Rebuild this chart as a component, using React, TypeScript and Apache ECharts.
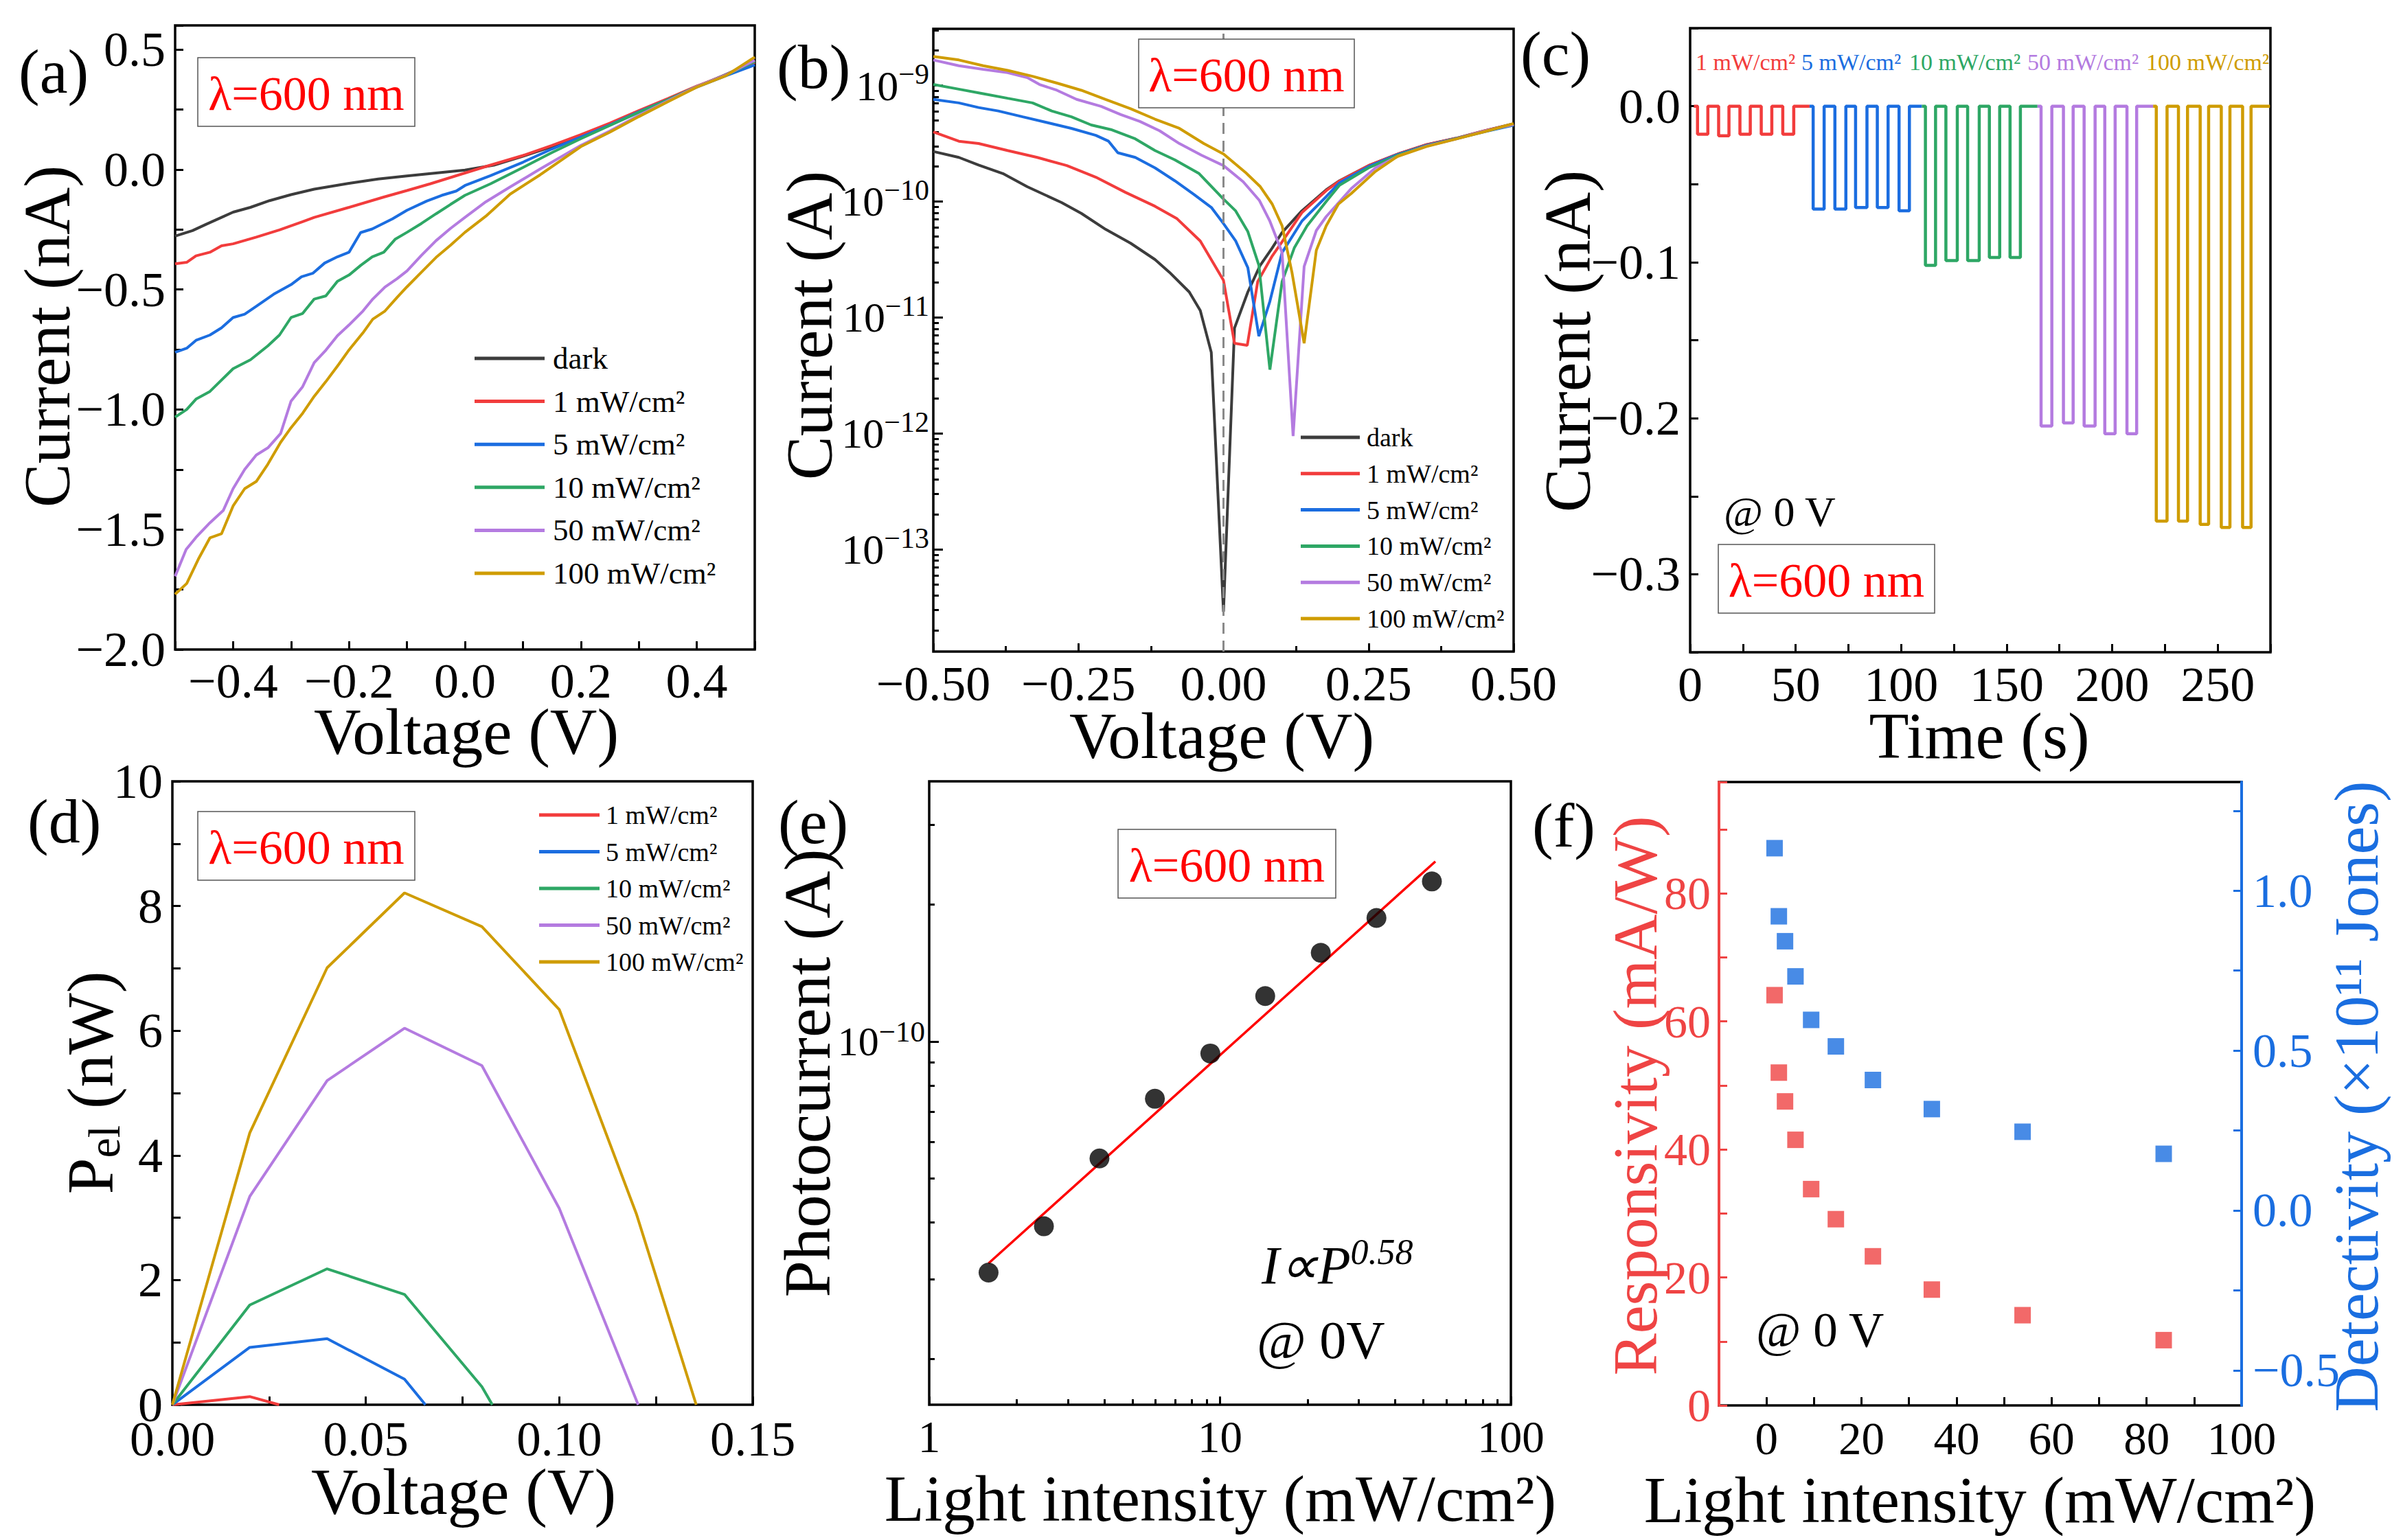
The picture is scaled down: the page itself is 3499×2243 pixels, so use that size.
import React, { useEffect, useRef } from 'react';
import * as echarts from 'echarts';

const FONT = "'Liberation Serif', 'Times New Roman', Times, serif";
const W = 3499;
const H = 2243;

const C_DARK = '#3c3c3c';
const C_RED = '#f23c3c';
const C_BLUE = '#1b6de0';
const C_GREEN = '#2ea765';
const C_PURPLE = '#b47be0';
const C_GOLD = '#cf9c00';
const F_RED = '#ef4444';
const F_BLUE = '#1a6ee0';

const NAMES_ALL = ['dark', '1 mW/cm²', '5 mW/cm²', '10 mW/cm²', '50 mW/cm²', '100 mW/cm²'];
const NAMES_LIGHT = ['1 mW/cm²', '5 mW/cm²', '10 mW/cm²', '50 mW/cm²', '100 mW/cm²'];
const COLORS_ALL = [C_DARK, C_RED, C_BLUE, C_GREEN, C_PURPLE, C_GOLD];
const COLORS_LIGHT = [C_RED, C_BLUE, C_GREEN, C_PURPLE, C_GOLD];

// ---------- (a) I-V linear, [V, nA] ----------
const darkA = [[-0.5,-0.278],[-0.47,-0.255],[-0.447,-0.229],[-0.42,-0.2],[-0.4,-0.178],[-0.37,-0.158],[-0.337,-0.13],[-0.3,-0.105],[-0.26,-0.082],[-0.2,-0.058],[-0.15,-0.04],[-0.1,-0.027],[-0.05,-0.015],[0,-0.003],[0.05,0.018],[0.1,0.055],[0.15,0.095],[0.2,0.14],[0.25,0.19],[0.3,0.243],[0.35,0.293],[0.4,0.345],[0.45,0.395],[0.5,0.45]];
const redA = [[-0.5,-0.393],[-0.48,-0.387],[-0.464,-0.36],[-0.44,-0.345],[-0.42,-0.318],[-0.4,-0.31],[-0.36,-0.282],[-0.32,-0.252],[-0.28,-0.218],[-0.26,-0.2],[-0.2,-0.158],[-0.14,-0.115],[-0.1,-0.088],[-0.06,-0.06],[-0.02,-0.03],[0,-0.015],[0.04,0.015],[0.1,0.058],[0.15,0.1],[0.2,0.145],[0.25,0.193],[0.3,0.245],[0.35,0.295],[0.4,0.347],[0.45,0.393],[0.5,0.445]];
const blueA = [[-0.5,-0.762],[-0.48,-0.745],[-0.464,-0.712],[-0.44,-0.69],[-0.42,-0.66],[-0.4,-0.617],[-0.38,-0.603],[-0.36,-0.57],[-0.33,-0.52],[-0.3,-0.48],[-0.282,-0.447],[-0.262,-0.432],[-0.242,-0.39],[-0.22,-0.364],[-0.2,-0.345],[-0.18,-0.263],[-0.16,-0.248],[-0.125,-0.206],[-0.1,-0.17],[-0.066,-0.132],[-0.04,-0.108],[-0.015,-0.09],[0,-0.067],[0.044,-0.026],[0.1,0.03],[0.15,0.085],[0.2,0.135],[0.25,0.185],[0.3,0.24],[0.35,0.29],[0.4,0.343],[0.45,0.39],[0.5,0.435]];
const greenA = [[-0.5,-1.032],[-0.48,-1.0],[-0.464,-0.957],[-0.44,-0.925],[-0.4,-0.83],[-0.37,-0.793],[-0.34,-0.735],[-0.32,-0.69],[-0.3,-0.617],[-0.28,-0.6],[-0.26,-0.54],[-0.24,-0.527],[-0.22,-0.466],[-0.2,-0.44],[-0.18,-0.4],[-0.16,-0.364],[-0.14,-0.345],[-0.12,-0.29],[-0.1,-0.262],[-0.075,-0.225],[-0.05,-0.185],[-0.025,-0.146],[0,-0.108],[0.044,-0.06],[0.1,0.008],[0.15,0.07],[0.2,0.128],[0.25,0.183],[0.3,0.238],[0.35,0.29],[0.4,0.345],[0.45,0.392],[0.5,0.45]];
const purpleA = [[-0.5,-1.695],[-0.481,-1.583],[-0.464,-1.533],[-0.44,-1.472],[-0.417,-1.421],[-0.4,-1.33],[-0.38,-1.25],[-0.36,-1.19],[-0.34,-1.16],[-0.318,-1.1],[-0.3,-0.965],[-0.28,-0.905],[-0.26,-0.805],[-0.24,-0.753],[-0.22,-0.693],[-0.2,-0.648],[-0.176,-0.59],[-0.159,-0.54],[-0.138,-0.49],[-0.117,-0.455],[-0.1,-0.423],[-0.075,-0.358],[-0.05,-0.297],[-0.025,-0.246],[0,-0.2],[0.036,-0.135],[0.078,-0.073],[0.13,0.002],[0.2,0.1],[0.25,0.16],[0.3,0.225],[0.35,0.285],[0.4,0.345],[0.45,0.393],[0.5,0.455]];
const goldA = [[-0.5,-1.77],[-0.48,-1.725],[-0.46,-1.624],[-0.44,-1.535],[-0.42,-1.518],[-0.4,-1.402],[-0.38,-1.33],[-0.36,-1.3],[-0.34,-1.228],[-0.318,-1.137],[-0.3,-1.076],[-0.28,-1.016],[-0.26,-0.945],[-0.24,-0.884],[-0.218,-0.813],[-0.2,-0.752],[-0.176,-0.681],[-0.159,-0.624],[-0.138,-0.59],[-0.117,-0.533],[-0.1,-0.489],[-0.075,-0.428],[-0.05,-0.367],[-0.025,-0.316],[0,-0.262],[0.036,-0.195],[0.078,-0.103],[0.13,-0.022],[0.2,0.095],[0.25,0.155],[0.3,0.22],[0.35,0.282],[0.4,0.343],[0.45,0.39],[0.5,0.468]];

// ---------- (b) |I|-V semilog, [V, A] ----------
const darkB = [[-0.5,2.70e-10],[-0.456,2.40e-10],[-0.422,2.06e-10],[-0.38,1.74e-10],[-0.338,1.34e-10],[-0.279,9.8e-11],[-0.245,7.9e-11],[-0.203,5.75e-11],[-0.16,4.37e-11],[-0.118,3.16e-11],[-0.093,2.45e-11],[-0.059,1.66e-11],[-0.04,1.15e-11],[-0.021,5.0e-12],[0,2.9e-14],[0.019,8.1e-12],[0.042,1.66e-11],[0.063,2.8e-11],[0.084,3.98e-11],[0.101,5.4e-11],[0.135,8.3e-11],[0.177,1.26e-10],[0.2,1.51e-10],[0.25,2.04e-10],[0.3,2.56e-10],[0.35,3.09e-10],[0.4,3.5e-10],[0.45,4.07e-10],[0.5,4.68e-10]];
const redB = [[-0.5,3.98e-10],[-0.456,3.31e-10],[-0.422,3.16e-10],[-0.372,2.75e-10],[-0.321,2.40e-10],[-0.27,2.04e-10],[-0.22,1.62e-10],[-0.169,1.20e-10],[-0.118,9.1e-11],[-0.08,7.1e-11],[-0.04,4.57e-11],[0,2.09e-11],[0.019,6.0e-12],[0.041,5.75e-12],[0.059,2.04e-11],[0.084,3.39e-11],[0.101,4.5e-11],[0.135,8.0e-11],[0.177,1.24e-10],[0.2,1.5e-10],[0.25,2.04e-10],[0.3,2.56e-10],[0.35,3.09e-10],[0.4,3.5e-10],[0.45,4.07e-10],[0.5,4.65e-10]];
const blueB = [[-0.5,7.59e-10],[-0.456,7.08e-10],[-0.422,6.46e-10],[-0.388,6.03e-10],[-0.346,5.37e-10],[-0.304,4.79e-10],[-0.262,4.27e-10],[-0.22,3.72e-10],[-0.198,3.31e-10],[-0.182,2.63e-10],[-0.152,2.40e-10],[-0.118,1.95e-10],[-0.084,1.51e-10],[-0.051,1.15e-10],[-0.021,8.9e-11],[0,6.46e-11],[0.021,4.57e-11],[0.042,2.69e-11],[0.061,6.9e-12],[0.08,1.38e-11],[0.101,3.63e-11],[0.135,6.76e-11],[0.177,1.10e-10],[0.2,1.45e-10],[0.25,2.0e-10],[0.3,2.54e-10],[0.35,3.05e-10],[0.4,3.48e-10],[0.45,4.0e-10],[0.5,4.55e-10]];
const greenB = [[-0.5,1.02e-9],[-0.456,9.3e-10],[-0.414,8.5e-10],[-0.372,7.76e-10],[-0.329,7.08e-10],[-0.296,6.03e-10],[-0.262,5.37e-10],[-0.228,4.57e-10],[-0.194,4.17e-10],[-0.152,3.47e-10],[-0.118,2.75e-10],[-0.084,2.29e-10],[-0.042,1.74e-10],[0,1.05e-10],[0.021,8.3e-11],[0.042,5.5e-11],[0.061,2.82e-11],[0.08,3.55e-12],[0.101,2.04e-11],[0.122,3.98e-11],[0.144,6.17e-11],[0.177,1.0e-10],[0.2,1.38e-10],[0.25,1.95e-10],[0.3,2.5e-10],[0.35,3.02e-10],[0.4,3.47e-10],[0.45,4.03e-10],[0.5,4.6e-10]];
const purpleB = [[-0.5,1.66e-9],[-0.456,1.48e-9],[-0.414,1.38e-9],[-0.372,1.29e-9],[-0.338,1.17e-9],[-0.317,1.02e-9],[-0.287,9.1e-10],[-0.253,7.59e-10],[-0.211,6.61e-10],[-0.177,5.62e-10],[-0.144,4.9e-10],[-0.11,4.07e-10],[-0.076,3.16e-10],[-0.038,2.51e-10],[0,2.04e-10],[0.034,1.48e-10],[0.062,1.02e-10],[0.08,6.76e-11],[0.101,3.63e-11],[0.12,9.5e-13],[0.139,2.75e-11],[0.16,5.62e-11],[0.177,7.41e-11],[0.22,1.29e-10],[0.262,1.95e-10],[0.3,2.45e-10],[0.35,3.0e-10],[0.4,3.45e-10],[0.45,4.05e-10],[0.5,4.62e-10]];
const goldB = [[-0.5,1.78e-9],[-0.456,1.66e-9],[-0.414,1.48e-9],[-0.372,1.35e-9],[-0.329,1.20e-9],[-0.287,1.05e-9],[-0.245,9.1e-10],[-0.203,7.59e-10],[-0.16,6.31e-10],[-0.118,5.13e-10],[-0.076,4.27e-10],[-0.034,3.16e-10],[0,2.57e-10],[0.038,1.78e-10],[0.063,1.35e-10],[0.084,9.5e-11],[0.101,6.17e-11],[0.118,2.45e-11],[0.139,6.0e-12],[0.16,3.8e-11],[0.177,6.17e-11],[0.198,9.5e-11],[0.22,1.17e-10],[0.262,1.82e-10],[0.3,2.45e-10],[0.35,2.98e-10],[0.4,3.45e-10],[0.45,4.0e-10],[0.5,4.7e-10]];

// ---------- (c) photo-response, time in s, current in nA ----------
const cSegStart = [1.8, 56.6, 109.8, 164.6, 219.4];
const cSegEnd = [56.6, 109.8, 164.6, 219.4, 274.8];
const cLightOn = [
  [3.5, 13.5, 23.6, 33.7, 43.9],
  [58.3, 68.6, 78.4, 88.7, 99.0],
  [111.5, 121.2, 131.5, 141.8, 151.6],
  [166.3, 176.9, 186.7, 196.5, 207.0],
  [220.9, 231.4, 241.7, 251.7, 261.8],
];
const cLightOff = [
  [8.4, 18.4, 28.5, 38.7, 49.1],
  [63.5, 73.8, 83.8, 93.8, 103.9],
  [116.3, 126.6, 137.0, 146.7, 156.5],
  [171.4, 181.5, 191.9, 201.4, 211.6],
  [226.0, 235.7, 245.7, 255.8, 265.8],
];
const cOnLevel = [
  [-0.018, -0.019, -0.018, -0.018, -0.018],
  [-0.066, -0.066, -0.065, -0.065, -0.067],
  [-0.102, -0.099, -0.099, -0.097, -0.097],
  [-0.205, -0.203, -0.205, -0.21, -0.21],
  [-0.266, -0.266, -0.268, -0.27, -0.27],
];
const cDarkLevel = 0;

// ---------- (d) electrical power, [V, nW] ----------
const redD = [[0,0],[0.02,0.13],[0.0276,0]];
const blueD = [[0,0],[0.02,0.92],[0.04,1.06],[0.06,0.41],[0.0654,0]];
const greenD = [[0,0],[0.02,1.6],[0.04,2.18],[0.06,1.77],[0.08,0.29],[0.0827,0]];
const purpleD = [[0,0],[0.02,3.34],[0.04,5.2],[0.06,6.04],[0.08,5.44],[0.1,3.15],[0.1204,0]];
const goldD = [[0,0],[0.02,4.36],[0.04,7.01],[0.06,8.21],[0.08,7.67],[0.1,6.34],[0.12,3.05],[0.1354,0]];

// ---------- (e) photocurrent vs intensity ----------
const eIntensity = [1.6, 2.48, 3.85, 5.97, 9.26, 14.3, 22.2, 34.5, 53.5];
const ePhotocurrent = [3.10e-11, 3.92e-11, 5.53e-11, 7.48e-11, 9.41e-11, 1.259e-10, 1.567e-10, 1.87e-10, 2.25e-10];
const eFitIntensity = [1.6, 55];
const eFitCurrent = [3.25e-11, 2.49e-10];

// ---------- (f) responsivity & detectivity ----------
const fIntensity = [1.7, 2.6, 3.9, 6.1, 9.4, 14.6, 22.4, 34.8, 53.9, 83.6];
const fResponsivity = [64.1, 52.0, 47.5, 41.5, 33.8, 29.1, 23.3, 18.1, 14.1, 10.2];
const fDetectivity = [1.133, 0.92, 0.842, 0.732, 0.596, 0.513, 0.408, 0.317, 0.246, 0.177];

// tick labels / positions
const LOG_MANTISSAS = [2, 3, 4, 5, 6, 7, 8, 9];
const bMajorTicks = [1e-13, 1e-12, 1e-11, 1e-10, 1e-9];
const bDecades = [-14, -13, -12, -11, -10, -9];
const eMajorY = [1e-10];
const eDecadesY = [-11, -10];
const eMajorX = [1, 10, 100];
const eDecadesX = [0, 1];
const fRightLabels = [-0.5, 0, 0.5, 1.0];
const fRightTicks = [-0.5, -0.25, 0, 0.25, 0.5, 0.75, 1.0, 1.25];

const B_MIN = 1.318e-14, B_MAX = 3.08e-9;
const E_MIN = 1.587e-11, E_MAX = 3.737e-10;

function minorLog(decades: number[], lo: number, hi: number) {
  const out: number[] = [];
  decades.forEach((d) => LOG_MANTISSAS.forEach((m) => {
    const v = m * Math.pow(10, d);
    if (v > lo && v < hi) out.push(v);
  }));
  return out;
}

function fmtNum(v: number, d: number) {
  const r = Number(v.toFixed(d));
  if (r === 0) return (0).toFixed(d);
  return (r < 0 ? '\u2212' : '') + Math.abs(r).toFixed(d);
}
function isMult(v: number, step: number) {
  const q = v / step;
  return Math.abs(q - Math.round(q)) < 1e-6;
}
function pulseTrace(i: number) {
  const pts: number[][] = [[cSegStart[i], cDarkLevel]];
  cLightOn[i].forEach((t, k) => {
    const lvl = cOnLevel[i][k];
    const off = cLightOff[i][k];
    pts.push([t, cDarkLevel], [t, lvl], [off, lvl], [off, cDarkLevel]);
  });
  pts.push([cSegEnd[i], cDarkLevel]);
  return pts;
}

const tick = (color = '#000', len = 12) => ({ show: true, inside: true, length: len, lineStyle: { color, width: 3 } });
const lbl = (size = 72, margin = 14, color = '#000') => ({
  fontFamily: FONT, fontSize: size, color, margin, showMinLabel: true, showMaxLabel: true,
});
const noLine = { show: false, onZero: false };
const noSplit = { show: false };

const powRich = (base: number, sup: number) => ({
  b: { fontFamily: FONT, fontSize: base, color: '#000', lineHeight: base * 1.2 },
  s: { fontFamily: FONT, fontSize: sup, color: '#000', lineHeight: sup, verticalAlign: 'top' },
});
const powFmt = (v: number) => {
  const e = Math.round(Math.log10(v));
  return `{b|10}{s|${e < 0 ? '\u2212' : ''}${Math.abs(e)}}`;
};

function txt(x: number, y: number, text: string, size: number, o: any = {}) {
  return {
    type: 'text', x, y, z: 100, rotation: o.rot || 0,
    style: {
      text, fontSize: size, fontFamily: FONT, fill: o.fill || '#000',
      align: o.align || 'left', verticalAlign: 'middle',
      fontStyle: o.italic ? 'italic' : 'normal', rich: o.rich,
    },
  };
}
function lambdaBox(x0: number, y0: number, x1: number, y1: number) {
  return [
    { type: 'rect', z: 99, shape: { x: x0, y: y0, width: x1 - x0, height: y1 - y0 }, style: { fill: '#fff', stroke: '#555', lineWidth: 1.5 } },
    txt((x0 + x1) / 2, (y0 + y1) / 2 + 2, 'λ=600 nm', 70, { fill: '#ff0000', align: 'center' }),
  ];
}

function buildOption() {
  const lineSeries = (name: string, data: any, color: string, xi: number, yi: number, width = 4) => ({
    type: 'line', name, data, xAxisIndex: xi, yAxisIndex: yi, showSymbol: false, symbol: 'none',
    lineStyle: { width, color }, itemStyle: { color }, emphasis: { disabled: true },
  });
  const dataA = [darkA, redA, blueA, greenA, purpleA, goldA];
  const dataB = [darkB, redB, blueB, greenB, purpleB, goldB];
  const dataD = [redD, blueD, greenD, purpleD, goldD];

  const series: any[] = [];
  dataA.forEach((d, i) => series.push(lineSeries(NAMES_ALL[i], d, COLORS_ALL[i], 0, 0)));
  dataB.forEach((d, i) => {
    const s: any = lineSeries(NAMES_ALL[i], d, COLORS_ALL[i], 1, 1);
    if (i === 0) {
      s.markLine = {
        silent: true, symbol: 'none', label: { show: false },
        lineStyle: { type: [16, 10], color: '#8a8a8a', width: 3 },
        data: [{ xAxis: 0 }],
      };
    }
    series.push(s);
  });
  COLORS_LIGHT.forEach((c, i) => series.push(lineSeries(NAMES_LIGHT[i], pulseTrace(i), c, 2, 3, 4.5)));
  dataD.forEach((d, i) => series.push(lineSeries(NAMES_LIGHT[i], d, COLORS_LIGHT[i], 3, 4)));
  series.push({
    ...lineSeries('fit', eFitIntensity.map((p, i) => [p, eFitCurrent[i]]), '#ff0000', 4, 5, 3.5),
  });
  series.push({
    type: 'scatter', name: 'Iph', xAxisIndex: 4, yAxisIndex: 5, symbol: 'circle', symbolSize: 29,
    itemStyle: { color: '#000' }, z: 5,
    data: eIntensity.map((p, i) => [p, ePhotocurrent[i]]),
  });
  series.push({
    type: 'scatter', name: 'R', xAxisIndex: 6, yAxisIndex: 7, symbol: 'rect', symbolSize: 24,
    itemStyle: { color: F_RED }, data: fIntensity.map((p, i) => [p, fResponsivity[i]]),
  });
  series.push({
    type: 'scatter', name: 'D', xAxisIndex: 6, yAxisIndex: 8, symbol: 'rect', symbolSize: 24,
    itemStyle: { color: F_BLUE }, data: fIntensity.map((p, i) => [p, fDetectivity[i]]),
  });

  const grid = [
    { left: 255, top: 37, width: 844, height: 909 },
    { left: 1359, top: 42, width: 845, height: 907 },
    { left: 2461, top: 41, width: 845, height: 909 },
    { left: 251, top: 1138, width: 845, height: 908 },
    { left: 1353, top: 1138, width: 847, height: 908 },
    { left: 2503, top: 1139, width: 761, height: 908 },
  ].map((g) => ({ ...g, show: true, borderColor: '#000', borderWidth: 3.5, backgroundColor: 'transparent', containLabel: false }));

  const xAxis = [
    { type: 'value', gridIndex: 0, min: -0.5, max: 0.5, interval: 0.1, axisLine: noLine, splitLine: noSplit, axisTick: tick(),
      axisLabel: { ...lbl(72, 10), formatter: (v: number) => (isMult(v, 0.2) ? fmtNum(v, 1) : '') } },
    { type: 'value', gridIndex: 1, min: -0.5, max: 0.5, interval: 0.25, axisLine: noLine, splitLine: noSplit, axisTick: tick(),
      minorTick: { show: true, splitNumber: 2, length: 8, lineStyle: { color: '#000', width: 3 } },
      axisLabel: { ...lbl(72, 11), formatter: (v: number) => fmtNum(v, 2) } },
    { type: 'value', gridIndex: 2, min: 0, max: 275, interval: 25, axisLine: noLine, splitLine: noSplit, axisTick: tick(),
      axisLabel: { ...lbl(72, 11), formatter: (v: number) => (isMult(v, 50) ? String(Math.round(v)) : '') } },
    { type: 'value', gridIndex: 3, min: 0, max: 0.15, interval: 0.025, axisLine: noLine, splitLine: noSplit, axisTick: tick(),
      axisLabel: { ...lbl(71, 14), formatter: (v: number) => (isMult(v, 0.05) ? fmtNum(v, 2) : '') } },
    { type: 'log', logBase: 10, gridIndex: 4, min: 1, max: 100, axisLine: noLine, splitLine: noSplit,
      axisTick: { ...tick(), customValues: eMajorX },
      axisLabel: { ...lbl(65, 14), customValues: eMajorX, formatter: (v: number) => String(Math.round(v)) } },
    { type: 'log', logBase: 10, gridIndex: 4, min: 1, max: 100, position: 'bottom', axisLine: noLine, splitLine: noSplit,
      axisLabel: { show: false }, axisTick: { ...tick('#000', 8), customValues: minorLog(eDecadesX, 1, 100) } },
    { type: 'value', gridIndex: 5, min: -10, max: 100, interval: 10, axisLine: noLine, splitLine: noSplit, axisTick: tick(),
      axisLabel: { ...lbl(67, 14), formatter: (v: number) => (isMult(v, 20) ? String(Math.round(v)) : '') } },
  ];

  const yAxis = [
    { type: 'value', gridIndex: 0, min: -2, max: 0.6, interval: 0.25, axisLine: noLine, splitLine: noSplit, axisTick: tick(),
      axisLabel: { ...lbl(72, 14), formatter: (v: number) => (isMult(v, 0.5) ? fmtNum(v, 1) : '') } },
    { type: 'log', logBase: 10, gridIndex: 1, min: B_MIN, max: B_MAX, axisLine: noLine, splitLine: noSplit,
      axisTick: { ...tick('#000', 14), customValues: bMajorTicks },
      axisLabel: { ...lbl(62, 6), customValues: bMajorTicks, formatter: powFmt, rich: powRich(62, 42) } },
    { type: 'log', logBase: 10, gridIndex: 1, position: 'left', min: B_MIN, max: B_MAX, axisLine: noLine, splitLine: noSplit,
      axisLabel: { show: false }, axisTick: { ...tick('#000', 8), customValues: minorLog(bDecades, B_MIN, B_MAX) } },
    { type: 'value', gridIndex: 2, min: -0.35, max: 0.05, interval: 0.05, axisLine: noLine, splitLine: noSplit, axisTick: tick(),
      axisLabel: { ...lbl(72, 14), formatter: (v: number) => (isMult(v, 0.1) ? fmtNum(v, 1) : '') } },
    { type: 'value', gridIndex: 3, min: 0, max: 10, interval: 1, axisLine: noLine, splitLine: noSplit, axisTick: tick(),
      axisLabel: { ...lbl(72, 14), formatter: (v: number) => (isMult(v, 2) ? String(Math.round(v)) : '') } },
    { type: 'log', logBase: 10, gridIndex: 4, min: E_MIN, max: E_MAX, axisLine: noLine, splitLine: noSplit,
      axisTick: { ...tick('#000', 14), customValues: eMajorY },
      axisLabel: { ...lbl(60, 6), customValues: eMajorY, formatter: powFmt, rich: powRich(60, 43) } },
    { type: 'log', logBase: 10, gridIndex: 4, position: 'left', min: E_MIN, max: E_MAX, axisLine: noLine, splitLine: noSplit,
      axisLabel: { show: false }, axisTick: { ...tick('#000', 8), customValues: minorLog(eDecadesY, E_MIN, E_MAX) } },
    { type: 'value', gridIndex: 5, position: 'left', min: 0, max: 97.4, interval: 10, z: 5,
      axisLine: { show: true, onZero: false, lineStyle: { color: F_RED, width: 4 } }, splitLine: noSplit, axisTick: tick(F_RED),
      axisLabel: { ...lbl(68, 12, F_RED), formatter: (v: number) => (isMult(v, 20) ? String(Math.round(v)) : '') } },
    { type: 'value', gridIndex: 5, position: 'right', min: -0.61, max: 1.34, z: 5,
      axisLine: { show: true, onZero: false, lineStyle: { color: F_BLUE, width: 4 } }, splitLine: noSplit,
      axisTick: { ...tick(F_BLUE), customValues: fRightTicks },
      axisLabel: { ...lbl(70, 16, F_BLUE), customValues: fRightLabels, formatter: (v: number) => fmtNum(v, 1) } },
  ];

  const legendBase = {
    orient: 'vertical', icon: 'rect', selectedMode: false, padding: 0,
    itemStyle: { borderWidth: 0 },
  };
  const legend = [
    { ...legendBase, data: NAMES_ALL, left: 691, top: 497, itemWidth: 102, itemHeight: 5, itemGap: 12.6,
      textStyle: { fontFamily: FONT, fontSize: 45, color: '#000', lineHeight: 50, padding: [0, 0, 0, 7] } },
    { ...legendBase, data: NAMES_ALL, left: 1894, top: 617, itemWidth: 86, itemHeight: 5, itemGap: 12.8,
      textStyle: { fontFamily: FONT, fontSize: 38, color: '#000', lineHeight: 40, padding: [0, 0, 0, 5] } },
    { ...legendBase, data: NAMES_LIGHT, left: 785, top: 1167, itemWidth: 88, itemHeight: 5, itemGap: 13.5,
      textStyle: { fontFamily: FONT, fontSize: 38, color: '#000', lineHeight: 40, padding: [0, 0, 0, 4] } },
  ];

  const R = Math.PI / 2;
  const elements: any[] = [
    // panel letters
    txt(27, 104, '(a)', 92), txt(1131, 97, '(b)', 92), txt(2214, 78, '(c)', 92),
    txt(40, 1196, '(d)', 92), txt(1133, 1197, '(e)', 92), txt(2231, 1202, '(f)', 92),
    // lambda boxes
    ...lambdaBox(288, 84, 604, 184), ...lambdaBox(1658, 57, 1972, 157), ...lambdaBox(2502, 793, 2817, 893),
    ...lambdaBox(288, 1182, 604, 1282), ...lambdaBox(1628, 1208, 1945, 1308),
    // axis titles
    txt(68, 490, 'Current (nA)', 96, { rot: R, align: 'center' }),
    txt(679, 1066, 'Voltage (V)', 95, { align: 'center' }),
    txt(1178, 474, 'Current (A)', 96, { rot: R, align: 'center' }),
    txt(1779, 1072, 'Voltage (V)', 95, { align: 'center' }),
    txt(2282, 497, 'Current (nA)', 96, { rot: R, align: 'center' }),
    txt(2882, 1072, 'Time (s)', 95, { align: 'center' }),
    txt(134, 1577, '{p|P}{e|el}{p| (nW)}', 95, {
      rot: R, align: 'center',
      rich: {
        p: { fontFamily: FONT, fontSize: 95, lineHeight: 100, verticalAlign: 'top', fill: '#000' },
        e: { fontFamily: FONT, fontSize: 66, lineHeight: 66, padding: [50, 0, 0, 0], verticalAlign: 'bottom', fill: '#000' },
      },
    }),
    txt(675, 2173, 'Voltage (V)', 95, { align: 'center' }),
    txt(1175, 1563, 'Photocurrent (A)', 96, { rot: R, align: 'center' }),
    txt(1777, 2183, 'Light intensity (mW/cm²)', 95, { align: 'center' }),
    txt(2381, 1596, 'Responsivity (mA/W)', 92, { rot: R, align: 'center', fill: F_RED }),
    txt(3431, 1597, 'Detectivity (×10¹¹ Jones)', 92, { rot: R, align: 'center', fill: F_BLUE }),
    txt(2883, 2185, 'Light intensity (mW/cm²)', 95, { align: 'center' }),
    // annotations
    txt(2510, 745, '@ 0 V', 62),
    txt(1830, 1951, '@ 0V', 78),
    txt(2557, 1937, '@ 0 V', 71),
    txt(1837, 1842, '{i|I∝P}{s|0.58}', 78, {
      rich: {
        i: { fontFamily: FONT, fontSize: 78, fontStyle: 'italic', lineHeight: 90, fill: '#000' },
        s: { fontFamily: FONT, fontSize: 52, fontStyle: 'italic', lineHeight: 50, verticalAlign: 'top', fill: '#000' },
      },
    }),
    // (c) intensity labels
    txt(2469, 90, '1 mW/cm²', 34, { fill: C_RED }),
    txt(2623, 90, '5 mW/cm²', 34, { fill: C_BLUE }),
    txt(2780, 90, '10 mW/cm²', 34, { fill: C_GREEN }),
    txt(2952, 90, '50 mW/cm²', 34, { fill: C_PURPLE }),
    txt(3125, 90, '100 mW/cm²', 34, { fill: C_GOLD }),
  ];

  return {
    animation: false,
    backgroundColor: '#fff',
    textStyle: { fontFamily: FONT },
    grid, xAxis, yAxis, legend, series,
    graphic: { elements },
  };
}

export default function App() {
  const ref = useRef<HTMLDivElement>(null);
  useEffect(() => {
    document.body.style.margin = '0';
    if (!ref.current) return;
    const chart = echarts.init(ref.current, undefined, { renderer: 'svg', width: W, height: H });
    chart.setOption(buildOption() as any);
    return () => chart.dispose();
  }, []);
  return <div ref={ref} style={{ position: 'absolute', left: 0, top: 0, width: W, height: H, background: '#fff' }} />;
}
